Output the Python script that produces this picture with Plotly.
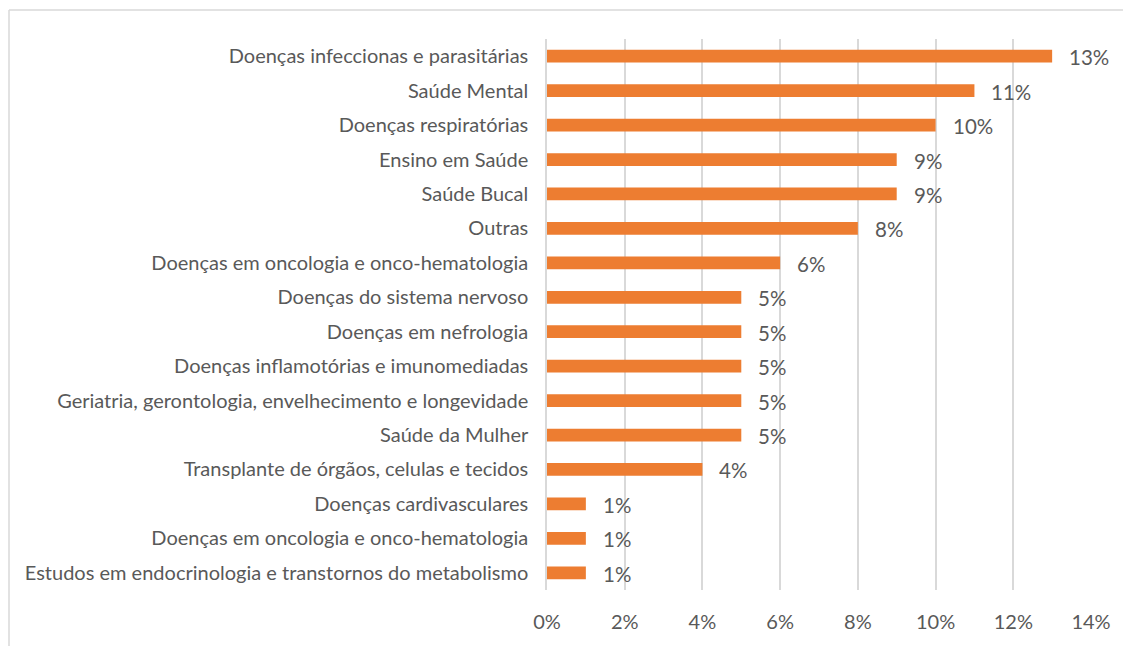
import plotly.graph_objects as go

# category labels, top to bottom
categories = [
    "Doenças infeccionas e parasitárias",
    "Saúde Mental",
    "Doenças respiratórias",
    "Ensino em Saúde",
    "Saúde Bucal",
    "Outras",
    "Doenças em oncologia e onco-hematologia",
    "Doenças do sistema nervoso",
    "Doenças em nefrologia",
    "Doenças inflamotórias e imunomediadas",
    "Geriatria, gerontologia, envelhecimento e longevidade",
    "Saúde da Mulher",
    "Transplante de órgãos, celulas e tecidos",
    "Doenças cardivasculares",
    "Doenças em oncologia e onco-hematologia",
    "Estudos em endocrinologia e transtornos do metabolismo",
]
# share of projects (%)
percentages = [13, 11, 10, 9, 9, 8, 6, 5, 5, 5, 5, 5, 4, 1, 1, 1]
x_ticks = [0, 2, 4, 6, 8, 10, 12, 14]

# the page body adds 8px around the figure, so the figure is 8px smaller
W, H = 1123, 638
margin_l, margin_r, margin_t, margin_b = 539, 40, 31, 56
plot_w = W - margin_l - margin_r
plot_h = H - margin_t - margin_b

text_color = "#595959"
grid_color = "#d9d9d9"
font_family = "Lato, 'Open Sans', sans-serif"

positions = list(range(len(categories)))  # duplicated labels need their own slot

fig = go.Figure()
fig.add_trace(
    go.Bar(
        x=percentages,
        y=positions,
        orientation="h",
        marker=dict(color="#ED7D31", line=dict(width=0)),
        width=0.37,
        hoverinfo="skip",
    )
)

# value labels to the right of each bar
for pos, val in zip(positions, percentages):
    fig.add_annotation(
        x=val, y=pos, text=f"{val}%",
        showarrow=False, xanchor="left", yanchor="middle",
        xshift=15, yshift=-1,
        font=dict(size=20.5, color=text_color, family=font_family),
    )

# chart frame: only the top and left edges fall inside the window
frame_left = (1 - margin_l) / plot_w
frame_top = 1 + (margin_t - 2) / plot_h
frame_style = dict(color=grid_color, width=1.5)
fig.add_shape(type="line", xref="paper", yref="paper",
              x0=frame_left, x1=(W + 20 - margin_l) / plot_w,
              y0=frame_top, y1=frame_top, line=frame_style, layer="below")
fig.add_shape(type="line", xref="paper", yref="paper",
              x0=frame_left, x1=frame_left,
              y0=frame_top, y1=-(margin_b + 20) / plot_h, line=frame_style, layer="below")

fig.update_layout(
    width=W,
    height=H,
    autosize=False,
    paper_bgcolor="white",
    plot_bgcolor="white",
    margin=dict(l=margin_l, r=margin_r, t=margin_t, b=margin_b, pad=0),
    showlegend=False,
    font=dict(family=font_family, color=text_color),
)

fig.update_xaxes(
    range=[0, 14],
    tickvals=x_ticks,
    ticktext=[f"{t}%" for t in x_ticks],
    showgrid=True,
    gridcolor=grid_color,
    gridwidth=1.5,
    zeroline=False,
    showline=False,
    ticks="",
    tickfont=dict(size=20, color=text_color),
    ticklabelstandoff=18,
)

fig.update_yaxes(
    range=[len(categories) - 0.5, -0.5],
    tickvals=positions,
    ticktext=categories,
    showgrid=False,
    zeroline=False,
    showline=True,
    linecolor=grid_color,
    linewidth=1.5,
    ticks="",
    tickfont=dict(size=20, color=text_color),
    ticklabelstandoff=13,
)

fig.write_html("out.html")
